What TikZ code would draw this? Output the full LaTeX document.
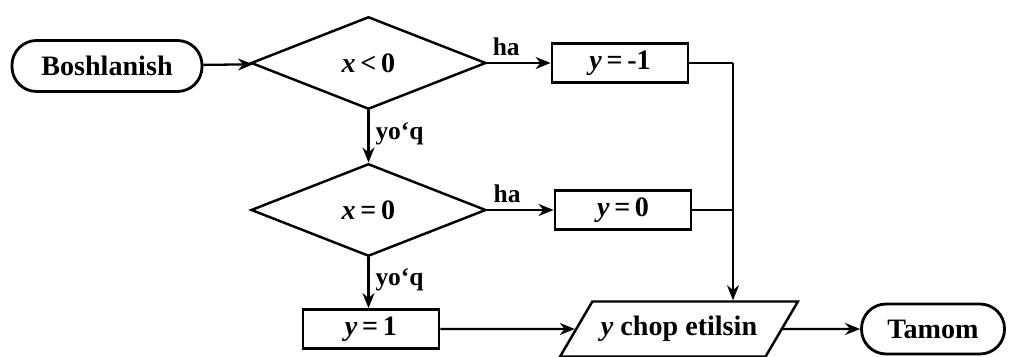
\documentclass[tikz,border=0pt]{standalone}
\usepackage{fontspec}
\setmainfont{Liberation Serif}
\usetikzlibrary{arrows.meta,shapes.geometric}

\newcommand{\bigtxt}{\fontsize{16}{19}\selectfont\bfseries}
\newcommand{\smtxt}{\fontsize{14.5}{17}\selectfont\bfseries}

\begin{document}
\begin{tikzpicture}[
  term/.style={draw, line width=1.6pt, rounded corners=14pt, minimum width=3.8cm,
               minimum height=1.02cm, align=center, font=\bigtxt},
  cond/.style={draw, diamond, line width=1.4pt, inner sep=0pt, minimum width=4.7cm,
               minimum height=1.85cm, align=center, font=\bigtxt},
  proc/.style={draw, line width=1.6pt, minimum width=2.72cm, minimum height=0.78cm,
               align=center, font=\bigtxt},
  outp/.style={draw, trapezium, trapezium left angle=50, trapezium right angle=130,
               trapezium stretches=true, line width=1.4pt, minimum width=4.76cm,
               minimum height=1.1cm, align=center, font=\bigtxt},
  arr/.style={-{Stealth[length=3mm,width=2.4mm]}, line width=1.3pt},
  ln/.style={line width=1.3pt},
  lab/.style={font=\smtxt}
]
  \useasboundingbox (0,0) rectangle (20.24,7.14);

  \node[term] (st) at (2.14,5.82) {Boshlanish};
  \node[cond] (d1) at (7.37,5.88) {\textit{x}\,<\,0};
  \node[proc] (b1) at (12.4,5.88) {\textit{y}\,=\,-1};
  \node[cond] (d2) at (7.37,2.94) {\textit{x}\,=\,0};
  \node[proc] (b2) at (12.46,2.94) {\textit{y}\,=\,0};
  \node[proc] (b3) at (7.42,0.56) {\textit{y}\,=\,1};
  \node[outp] (io) at (13.58,0.56) {\textit{y} chop etilsin};
  \node[term, minimum width=2.86cm, minimum height=1.0cm] (tm) at (18.66,0.56) {Tamom};
  \coordinate (jx) at (14.66,5.88);

  \draw[arr] (st) -- (d1);
  \draw[arr] (d1.east) -- node[lab, above, pos=0.3] {ha} (b1.west);
  \draw[arr] (d1.south) -- node[lab, right, pos=0.45] {yo‘q} (d2.north);
  \draw[arr] (d2.east) -- node[lab, above, pos=0.3] {ha} (b2.west);
  \draw[arr] (d2.south) -- node[lab, right, pos=0.45] {yo‘q} (d2.south |- b3.north);
  \draw[ln] (b1.east) -- (jx);
  \draw[arr] (jx) -- (jx |- io.north);
  \draw[ln] (b2.east) -- (b2.east -| jx);
  \draw[arr] (b3) -- (io);
  \draw[arr] (io) -- (tm);
\end{tikzpicture}
\end{document}
